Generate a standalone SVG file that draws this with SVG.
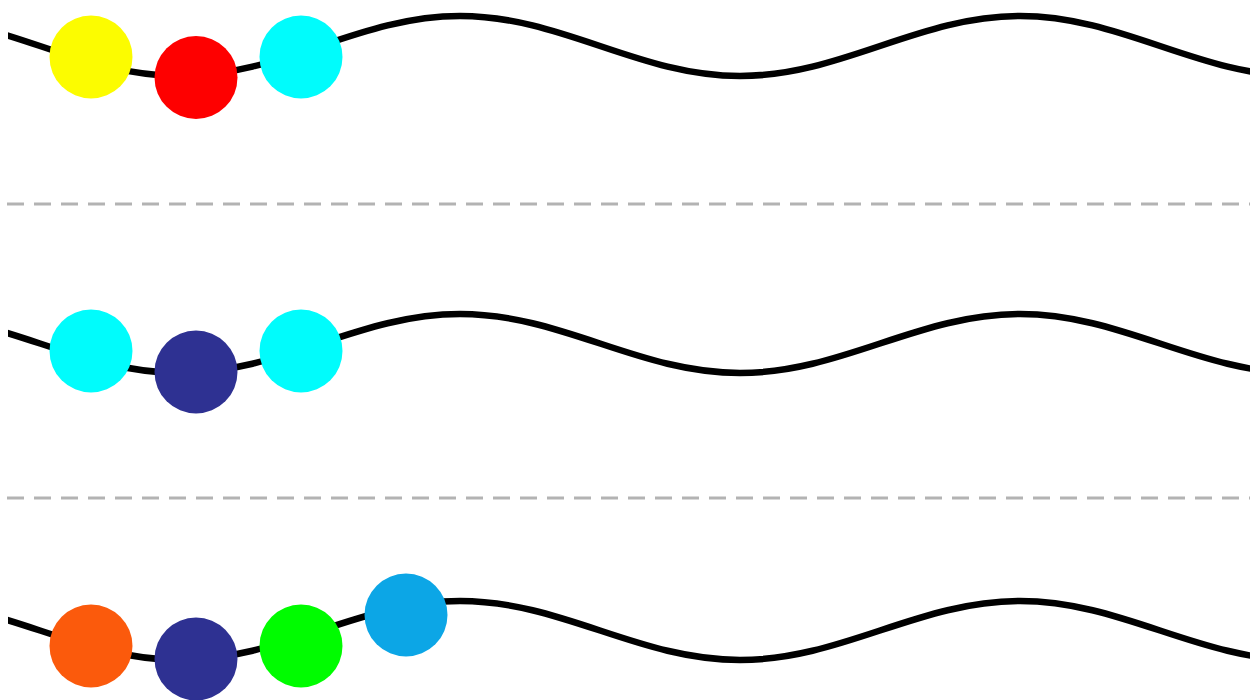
<svg xmlns="http://www.w3.org/2000/svg" width="1250" height="700" viewBox="0 0 1250 700">
  <style>
    .wave { fill: none; stroke: #000; stroke-width: 6.5; }
    .sep { stroke: #b3b3b3; stroke-width: 3; stroke-dasharray: 17 10; }
  </style>
  <defs>
    <clipPath id="clip"><rect x="8" y="0" width="1242" height="700"/></clipPath>
  </defs>
  <rect width="1250" height="700" fill="#fff"/>
  <g id="separators">
    <line class="sep" x1="7" y1="204" x2="1250" y2="204"/>
    <line class="sep" x1="7" y1="498" x2="1250" y2="498"/>
  </g>
  <g id="connectors" clip-path="url(#clip)">
    <path class="wave" d="M -100 16 C 2 16 78 76 180 76 C 282 76 358 16 460 16 C 562 16 638 76 740 76 C 842 76 918 16 1020 16 C 1122 16 1198 76 1300 76"/>
    <path class="wave" d="M -100 314 C 2 314 78 373 180 373 C 282 373 358 314 460 314 C 562 314 638 373 740 373 C 842 373 918 314 1020 314 C 1122 314 1198 373 1300 373"/>
    <path class="wave" d="M -100 601 C 2 601 78 660 180 660 C 282 660 358 601 460 601 C 562 601 638 660 740 660 C 842 660 918 601 1020 601 C 1122 601 1198 660 1300 660"/>
  </g>
  <g id="row1">
    <g id="r1-yellow"><circle cx="91" cy="57" r="41.5" fill="#fcfc00"/></g>
    <g id="r1-red"><circle cx="196" cy="77.5" r="41.5" fill="#fe0000"/></g>
    <g id="r1-cyan"><circle cx="301" cy="57" r="41.5" fill="#00fcfc"/></g>
  </g>
  <g id="row2">
    <g id="r2-cyan1"><circle cx="91" cy="351" r="41.5" fill="#00fcfc"/></g>
    <g id="r2-navy"><circle cx="196" cy="372" r="41.5" fill="#2e3192"/></g>
    <g id="r2-cyan2"><circle cx="301" cy="351" r="41.5" fill="#00fcfc"/></g>
  </g>
  <g id="row3">
    <g id="r3-orange"><circle cx="91" cy="646" r="41.5" fill="#fb5a0c"/></g>
    <g id="r3-navy"><circle cx="196" cy="659" r="41.5" fill="#2e3192"/></g>
    <g id="r3-green"><circle cx="301" cy="646" r="41.5" fill="#00fc00"/></g>
    <g id="r3-blue"><circle cx="406" cy="615" r="41.5" fill="#0ca6e6"/></g>
  </g>
</svg>
